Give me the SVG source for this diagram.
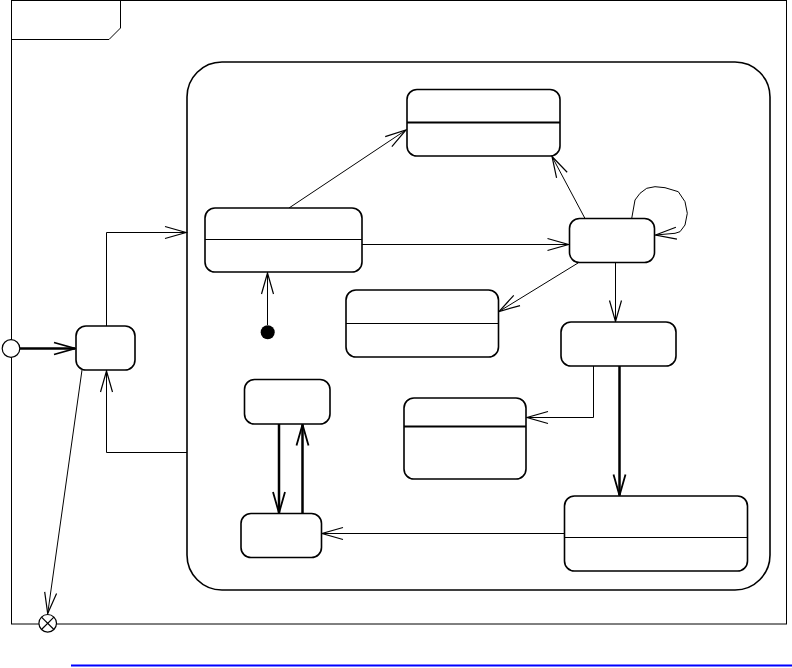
<svg xmlns="http://www.w3.org/2000/svg" width="792" height="668" viewBox="0 0 792 668">
<style>
.frame{fill:none;stroke:#000;stroke-width:1}
.state{fill:#fff;stroke:#000;stroke-width:1.6}
.div{stroke:#000;stroke-width:1.2}
.divb{stroke:#000;stroke-width:2.2}
.c{fill:none;stroke:#000;stroke-width:1}
.cb{fill:none;stroke:#000;stroke-width:2.5}
</style>
<defs>
<marker id="a" markerUnits="userSpaceOnUse" viewBox="-24 -8 26 16" refX="0" refY="0" markerWidth="26" markerHeight="16" orient="auto" overflow="visible">
<path d="M-21,-6 L0,0 L-21,6" fill="none" stroke="#000" stroke-width="1.2"/>
</marker>
<marker id="ab" markerUnits="userSpaceOnUse" viewBox="-24 -8 26 16" refX="0" refY="0" markerWidth="26" markerHeight="16" orient="auto" overflow="visible">
<path d="M-21,-6 L0,0 L-21,6" fill="none" stroke="#000" stroke-width="1.8"/>
</marker>
</defs>
<rect width="792" height="668" fill="#fff"/>
<g id="frame">
<rect class="frame" x="11.5" y="0.5" width="775" height="623.5"/>
<polyline class="frame" points="11.5,39.5 109,39.5 120.5,28 120.5,0.5"/>
</g>
<g id="composite">
<rect class="state" x="187" y="62" width="583" height="528" rx="35" ry="35" stroke-width="2"/>
</g>
<g id="connectors">
<line class="cb" x1="20" y1="348.5" x2="75" y2="348.5" stroke-width="2" marker-end="url(#ab)"/>
<polyline class="c" points="106.5,326 106.5,232.5 186,232.5" marker-end="url(#a)"/>
<polyline class="c" points="187,452.5 106.5,452.5 106.5,371" marker-end="url(#a)"/>
<line class="c" x1="82" y1="370" x2="47.7" y2="613.5" marker-end="url(#a)"/>
<line class="c" x1="267.5" y1="325" x2="267.5" y2="273" marker-end="url(#a)"/>
<line class="c" x1="289" y1="208" x2="406" y2="130" marker-end="url(#a)"/>
<line class="c" x1="362" y1="244.5" x2="568.5" y2="244.5" marker-end="url(#a)"/>
<line class="c" x1="585" y1="218.5" x2="552" y2="156.5" marker-end="url(#a)"/>
<polyline class="c" points="631.7,218.5 635,200 640,193.3 646.7,188.3 655,186.7 665,187.7 678.3,191.7 685,201.7 687.3,213.3 685,225 680,231.7 675,233.3 655.5,235" marker-end="url(#a)"/>
<line class="c" x1="578" y1="263" x2="499" y2="311.5" marker-end="url(#a)"/>
<line class="c" x1="615.5" y1="262.5" x2="615.5" y2="321.5" marker-end="url(#a)"/>
<polyline class="c" points="593.5,366 593.5,417.5 527,417.5" marker-end="url(#a)"/>
<line class="cb" x1="619.5" y1="366" x2="619.5" y2="495.5" marker-end="url(#ab)"/>
<line class="c" x1="564.5" y1="533.5" x2="322" y2="533.5" marker-end="url(#a)"/>
<line class="cb" x1="279" y1="424" x2="279" y2="513" marker-end="url(#ab)"/>
<line class="cb" x1="302.5" y1="513.5" x2="302.5" y2="424.5" marker-end="url(#ab)"/>
</g>
<g id="n1"><rect class="state" x="407" y="89.5" width="153" height="66.5" rx="10"/><line class="divb" x1="407" y1="122.5" x2="560" y2="122.5"/></g>
<g id="n2"><rect class="state" x="205" y="208" width="157" height="64" rx="10"/><line class="div" x1="205" y1="239.5" x2="362" y2="239.5"/></g>
<g id="n3"><rect class="state" x="569.5" y="218.5" width="85" height="44" rx="10"/></g>
<g id="n4"><rect class="state" x="561" y="322" width="115" height="44" rx="10"/></g>
<g id="n5"><rect class="state" x="346" y="290" width="152.5" height="67" rx="10"/><line class="div" x1="346" y1="323.5" x2="498.5" y2="323.5"/></g>
<g id="n6"><rect class="state" x="404" y="398" width="122" height="81" rx="10"/><line class="divb" x1="404" y1="426.5" x2="526" y2="426.5"/></g>
<g id="n7"><rect class="state" x="244.5" y="379.5" width="85.5" height="44.5" rx="10"/></g>
<g id="n8"><rect class="state" x="241" y="513.5" width="80.5" height="44" rx="10"/></g>
<g id="n9"><rect class="state" x="564.5" y="496" width="183" height="75" rx="10"/><line class="div" x1="564.5" y1="537.5" x2="747.5" y2="537.5"/></g>
<g id="n10"><rect class="state" x="76" y="326" width="59" height="44" rx="10"/></g>
<g id="initial"><circle cx="267.7" cy="332.3" r="7" fill="#000"/></g>
<g id="entry"><circle cx="11" cy="348.5" r="8.8" fill="#fff" stroke="#000" stroke-width="1.2"/></g>
<g id="exit"><circle cx="47.7" cy="623.3" r="8.8" fill="#fff" stroke="#000" stroke-width="1.2"/>
<line x1="41.5" y1="617.1" x2="53.9" y2="629.5" stroke="#000" stroke-width="1.2"/>
<line x1="53.9" y1="617.1" x2="41.5" y2="629.5" stroke="#000" stroke-width="1.2"/></g>
<line x1="71" y1="665.5" x2="792" y2="665.5" stroke="#0000ff" stroke-width="2"/>
</svg>
